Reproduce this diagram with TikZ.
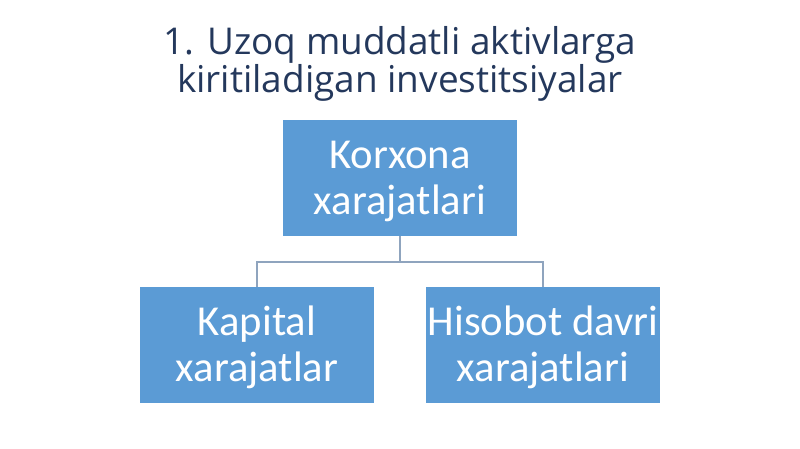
\documentclass[tikz,border=0pt]{standalone}
\usepackage{fontspec}
\setmainfont{Carlito}
\newfontfamily\titlefont{Open Sans}
\usetikzlibrary{positioning}
\definecolor{boxblue}{RGB}{91,155,213}
\definecolor{titleblue}{RGB}{36,56,92}
\definecolor{linegray}{RGB}{143,164,190}
\newcommand{\boxstrut}{\rule{0pt}{26pt}}

\begin{document}
\begin{tikzpicture}[x=0.75pt,y=-0.75pt,
  costbox/.style={rectangle,fill=boxblue,draw=none,text=white,align=center,minimum width=175.5pt,minimum height=87pt,inner sep=0pt,font=\fontsize{32}{34.5}\selectfont},
  conn/.style={draw=linegray,line width=0.9pt}]
\useasboundingbox (0,0) rectangle (800,449);
\node[font=\titlefont\fontsize{27.7}{24.75}\selectfont,text=titleblue,align=center,anchor=base] (title) at (400,93) {1. Uzoq muddatli aktivlarga\\kiritiladigan investitsiyalar};

\node[costbox] (korxona) at (400,178) {\boxstrut Korxona\\xarajatlari};
\node[costbox] (kapital) at (257,345) {\boxstrut Kapital\\xarajatlar};
\node[costbox] (hisobot) at (543,345) {\boxstrut Hisobot davri\\xarajatlari};

\coordinate (split) at (400,262);
\draw[conn] (korxona.south) -- (split) -| (kapital.north);
\draw[conn] (split) -| (hisobot.north);

\end{tikzpicture}
\end{document}
